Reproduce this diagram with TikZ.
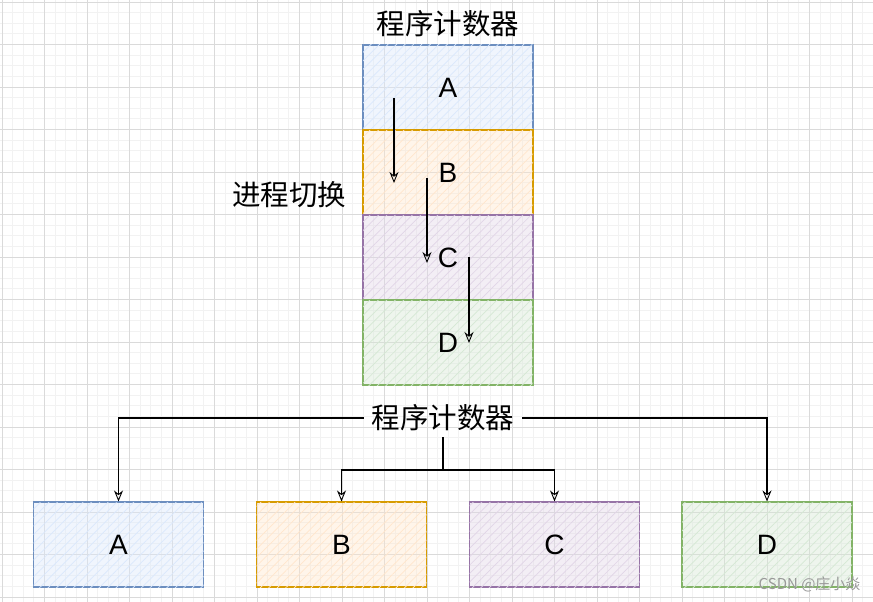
\documentclass[tikz,border=0pt]{standalone}
\usepackage{fontspec}
\setmainfont{Liberation Sans}
\newfontfamily\cjk{Noto Sans CJK SC}
\usetikzlibrary{arrows.meta,patterns.meta}
\definecolor{bluef}{HTML}{DAE8FC}\definecolor{blues}{HTML}{6C8EBF}
\definecolor{orangef}{HTML}{FFE6CC}\definecolor{oranges}{HTML}{D79B00}
\definecolor{purplef}{HTML}{E1D5E7}\definecolor{purples}{HTML}{9673A6}
\definecolor{greenf}{HTML}{D5E8D4}\definecolor{greens}{HTML}{82B366}
\definecolor{gridminor}{HTML}{F2F2F2}\definecolor{gridmajor}{HTML}{DADADA}
\begin{document}
\begin{tikzpicture}[x=1pt,y=-1pt,
  pbox/.style={rectangle, minimum width=170pt, minimum height=85pt, inner sep=0pt,
    draw=#1s, line width=1.1pt, fill=#1f, fill opacity=0.4, text opacity=1,
    postaction={pattern={Lines[angle=45,distance=6pt,line width=0.7pt]}, pattern color=#1f},
    font=\fontsize{28}{32}\selectfont},
  cjklabel/.style={inner xsep=8pt, inner ysep=6pt, font=\cjk\fontsize{28.5}{32}\selectfont},
  conn/.style={draw=black, line width=1.1pt, -{Stealth[open,length=11pt,width=9pt,line width=0.9pt]}}
]
\useasboundingbox (0,0) rectangle (873,602);
\fill[white] (0,0) rectangle (873,602);
\begin{scope}
\clip (0,0) rectangle (873,602);
\foreach \i in {0,...,82} {
  \draw[gridminor, line width=0.8pt] ({2+\i*10.625},0) -- ({2+\i*10.625},602);
}
\foreach \i in {0,...,57} {
  \draw[gridminor, line width=0.8pt] (0,{2+\i*10.625}) -- (873,{2+\i*10.625});
}
\foreach \i in {0,...,20} {
  \draw[gridmajor, line width=0.9pt] ({2+\i*42.5},0) -- ({2+\i*42.5},602);
}
\foreach \i in {0,...,14} {
  \draw[gridmajor, line width=0.9pt] (0,{2+\i*42.5}) -- (873,{2+\i*42.5});
}
\end{scope}

% top stack
\node[cjklabel] (pc1) at (448,24) {程序计数器};
\node[pbox=blue] (sA) at (448,87.5) {A};
\node[pbox=orange] (sB) at (448,172.5) {B};
\node[pbox=purple] (sC) at (448,257.5) {C};
\node[pbox=green] (sD) at (448,342.5) {D};
\node[cjklabel] (sw) at (289,195) {进程切换};

\coordinate (a1s) at (394,98);  \coordinate (a1e) at (394,183);
\coordinate (a2s) at (427,178); \coordinate (a2e) at (427,263);
\coordinate (a3s) at (469,257); \coordinate (a3e) at (469,343);
\draw[conn] (a1s) -- (a1e);
\draw[conn] (a2s) -- (a2e);
\draw[conn] (a3s) -- (a3e);

% bottom row
\node[cjklabel] (pc2) at (443,418) {程序计数器};
\node[pbox=blue] (bA) at (118.5,544.5) {A};
\node[pbox=orange] (bB) at (341.5,544.5) {B};
\node[pbox=purple] (bC) at (554.5,544.5) {C};
\node[pbox=green] (bD) at (767,544.5) {D};

\draw[conn] (pc2.west) -| (bA.north);
\draw[conn] (pc2.east) -| (bD.north);
\coordinate (j) at (443,470);
\draw[line width=1.1pt] (pc2.south) -- (j);
\draw[conn] (j) -| (bB.north);
\draw[conn] (j) -| (bC.north);

\node[anchor=east, text=black!40, font=\cjk\fontsize{15}{17}\selectfont] (wm) at (864,584) {CSDN @庄小焱};
\end{tikzpicture}
\end{document}
